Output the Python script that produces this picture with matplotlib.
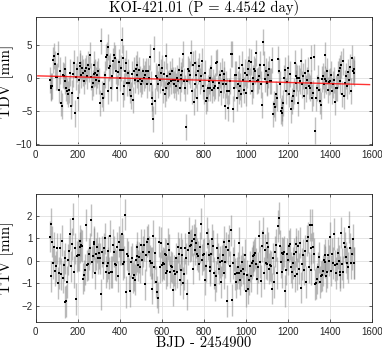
import numpy as np
import matplotlib
matplotlib.use("Agg")
from matplotlib import pyplot as plt

# ephemeris of the transits
t0 = 66.0
period = 4.4542
n_transits = 327

# TDV values [min] in ~100 day blocks
tdv = [
    -0.3, -1.3, -1.5, -1.2, 2.7, 3.3, 2.1, 0.1,
    0.2, 3.6, -1.8, 1.1, -3.8, -4.3, 0.4, 0.3, -0.5, 1.3, -1.5, -2.0, -2.5, -1.8, 0.8, -4.3, -2.3, 0.6, 2.2, -5.4, 0.2, 1.3,
    -3.0, -0.3, 2.3, 1.8, 0.5, 1.5, 0.8, -0.5, 1.0, 1.5, 0.3, 2.0, 1.3, 3.5, 0.2, -1.4, -0.8, 0.6, 2.0, 0.8, -0.4, 0.5, 1.0,
    -0.5, -3.8, 5.6, -2.5, -3.0, -1.0, 0.5, 3.2, 3.5, -2.0, 4.7, 1.5, 1.8, -1.5, 0.3, 2.6, 3.4, 3.0, 1.0, -1.5, 0.9, 2.4,
    0.0, 1.5, 5.7, -2.4, 3.0, -1.3, 1.0, 2.3, -0.8, 0.8, -0.8, -1.8, -2.7, 0.6, -3.4, 1.1, -0.3, 1.4, 2.0, 0.5, -0.5, 1.2, -0.2,
    -0.9, -0.5, 1.0, 0.0, 0.5, 1.0, -1.0, 1.0, 0.0, 3.2, -1.0, -3.0, -4.0, -6.3, 4.4, -3.5, 0.3, 0.0, -1.0, 2.0, -0.3, 0.8,
    1.5, -1.8, 0.6, -2.5, 3.3, -1.5, 0.3, -1.0, -0.8, 0.6, -0.5, 1.0, -0.3, -1.0, -0.3, -1.3, 0.0, -0.5, 1.2, -1.5, 0.4, -0.2, 1.0,
    3.6, -0.5, -1.5, -7.5, -0.5, 1.3, 1.0, 0.5, 3.8, -2.0, 2.0, -3.6, -1.0, 2.3, 0.5, -3.0, 1.0, 1.8, -0.5, 0.3, 2.5, -1.2,
    -2.0, 0.7, -3.5, -3.0, -1.5, -0.5, 0.0, -1.5, 1.5, -1.8, -0.7, -1.5, -1.2, 2.3, 2.4, -1.5, -0.8, 0.4, -2.2, 1.0, -1.0, -0.3, 0.6,
    -4.3, -1.0, -2.0, -4.6, -2.0, -0.5, 3.6, 3.6, -4.7, -1.5, 0.5, 0.5, -3.0, -1.0, -2.0, 1.5, -1.3, -2.5, 2.0, -0.4, -1.8, 0.8,
    -2.3, 0.5, 1.3, 2.5, -0.5, 2.4, -2.0, 0.0, -1.0, 1.3, 1.0, 3.8, -0.5, -0.3, 0.3, 2.0, -1.0, -4.1, 5.4, 2.0, -0.2, 1.0, -0.6,
    -0.8, 0.5, 1.3, -0.5, -0.5, 2.7, -5.5, -4.0, -4.5, -2.5, -3.0, 2.8, 1.0, -1.0, -5.0, -4.6, -5.3, -3.8, 0.0, 1.2, -2.0, -0.6,
    1.5, -2.5, 0.6, -4.8, -3.5, -2.8, -2.0, 2.3, 0.3, -0.8, 0.0, -3.8, 0.0, -0.5, 2.5, -1.0, 0.3, -2.8, 0.8, -1.6, -0.4, 1.1, -1.2,
    -1.5, 3.0, -0.8, -3.0, -2.3, 3.2, -8.0, -3.0, -1.5, 0.0, -1.8, -3.5, -4.2, -0.2, 0.3, -1.0, 3.5, -0.2, -0.5, 1.0, -1.8, -0.6,
    -0.5, 0.5, -2.0, -1.0, -0.3, -3.6, -1.5, -1.5, 0.5, 1.0, -0.5, 1.5, 2.0, -2.5, 2.5, -2.8, -0.8, 0.3, -1.2, 0.9, -0.4, 1.6, -2.0,
    3.0, 1.0, 1.3, 0.7,
]

# TTV values [min]
ttv = [
    1.07, -0.7, 1.65, 0.85, -0.1, 0.6, -0.45, -0.25,
    0.55, -1.0, -0.55, 0.55, -0.6, 0.9, -0.75, -0.2, 0.1, -1.85, -1.8, -0.95, 0.05, 0.45, 1.2, -0.25, 0.75, 1.87, -0.5, 0.55, -1.7, 0.2,
    0.25, 0.25, 0.9, 0.6, 0.7, 0.65, -0.8, -0.65, -0.4, 1.6, -0.2, -0.15, 0.3, 0.55, 1.82, -0.05, 0.2, 0.75, 0.85, -0.55, 0.3, 0.6, 0.1,
    0.35, 0.1, -1.5, 0.4, -0.1, 0.55, 1.0, -0.5, -0.25, 0.45, -0.1, -0.55, 1.1, -0.5, -0.5, 0.7, 0.4, -0.15, -0.2, 0.6, -0.7, 0.85,
    0.5, 0.5, 1.2, 0.5, -0.15, -0.05, 2.05, -1.4, 0.3, 0.2, -0.6, -1.35, -0.05, 0.1, -0.75, -0.65, -0.85, 0.05, 0.6, 0.2, -0.2, 0.15, -0.3,
    0.7, 0.05, 0.4, 0.7, -1.05, 0.25, 0.85, 0.95, 0.4, 0.0, -0.1, -0.1, -1.25, 1.1, -0.3, 0.35, -0.95, -1.4, -1.65, 0.85, -0.3, 0.8,
    -0.2, -0.1, -0.15, 0.3, 0.25, -0.55, -0.45, 0.75, 0.5, -0.5, -0.25, -0.3, -1.3, -0.45, -0.6, 0.1, -0.5, 0.6, 0.3, -0.85, -0.4, 0.55, 0.25,
    -1.0, -0.6, 0.55, 0.1, -1.5, 0.5, 1.25, 0.65, 0.7, 0.9, -0.35, 0.95, 1.15, 0.5, 0.8, 0.3, 0.2, -0.15, 0.6, 1.65, 0.05, 0.25,
    0.3, -0.85, -0.25, 1.25, 0.75, 0.25, -0.3, -0.45, 0.3, 0.95, 0.65, -0.55, -1.1, -0.7, 0.55, 0.1, -0.35, -0.05, -0.95, 0.0, 0.25, -0.55, 0.85,
    -0.05, 0.6, -1.8, 0.5, 0.9, -0.25, 1.35, -1.75, -0.1, 0.25, -0.6, -0.95, -0.55, -0.3, -0.55, 0.8, -0.85, -0.45, -0.05, -0.35, -0.6, 0.25,
    -1.35, -0.65, -1.25, -0.85, -0.25, -0.7, -0.1, 0.0, 0.2, 0.25, 0.35, -0.15, -0.8, -0.3, 1.1, -0.05, -0.9, 0.65, 1.25, -0.55, 0.5, -0.1, 0.8,
    -0.15, 0.6, -0.35, -0.2, -0.25, -1.25, 0.1, -0.95, 0.4, 0.7, -0.55, 1.55, 1.9, 0.65, -0.05, 0.35, -0.5, 0.3, 0.4, -1.35, -0.4, 0.3,
    0.05, 0.65, 0.75, -0.3, -0.5, -0.1, 0.3, -0.7, 0.75, 0.4, -0.6, 0.65, -0.35, 0.8, -1.2, -0.15, 0.25, -0.4, 0.45, -0.95, 0.9, 1.05, -0.3,
    1.6, -0.4, 0.55, 1.6, 0.6, 0.3, -1.05, -1.0, -0.8, -0.3, 0.15, -0.95, -0.7, -0.65, -0.45, 0.05, 0.25, -0.05, -0.7, -0.5, 0.25, 0.0,
    1.05, -0.45, 0.3, -0.1, 1.2, -0.2, -0.55, -0.15, 0.35, 0.0, -0.65, -0.5, 1.25, -0.15, -0.5, 0.8, 0.6, 0.15, -0.1, -0.3, 1.5, 0.55, -0.1,
    0.3, 0.95, -0.1, -0.1,
]

tdv_err = 2.0
ttv_err = 0.7

# linear trend on the TDV panel
trend_x = [10, 1590]
trend_y = [0.3, -1.03]

tdv = np.array(tdv[:n_transits])
ttv = np.array(ttv[:n_transits])
t = t0 + period * np.arange(n_transits)

fig = plt.figure(figsize=(3.82, 3.5), dpi=100)
ax1 = fig.add_axes([0.0935, 0.5857, 0.8795, 0.365])
ax2 = fig.add_axes([0.0935, 0.0809, 0.8795, 0.365])

def style(ax, yticks, ylim):
    ax.set_xlim(0, 1600)
    ax.set_ylim(*ylim)
    ax.set_xticks(np.arange(0, 1601, 200))
    ax.set_yticks(yticks)
    ax.grid(True, color="0.88", lw=0.6)
    ax.set_axisbelow(True)
    ax.tick_params(direction="in", top=True, right=True, length=2.5,
                   width=0.5, labelsize=7, colors="0.15")
    ax.tick_params(axis="y", pad=2.5)
    ax.tick_params(axis="x", pad=3.5)
    for lab in ax.get_xticklabels() + ax.get_yticklabels():
        lab.set_family("Liberation Sans")
    for s in ax.spines.values():
        s.set_linewidth(0.6)
        s.set_color("0.15")

for ax, y, e in [(ax1, tdv, tdv_err), (ax2, ttv, ttv_err)]:
    ax.errorbar(t, y, yerr=e, fmt="none", ecolor="0.5", alpha=0.5,
                elinewidth=1.0, capsize=0, zorder=2)
    ax.plot(t, y, "s", color="k", ms=1.7, mew=0, zorder=3)

ax1.plot(trend_x, trend_y, color="red", lw=1.0, alpha=0.8, zorder=4)

style(ax1, [-10, -5, 0, 5], (-10.2, 9.2))
style(ax2, [-2, -1, 0, 1, 2], (-2.72, 2.98))

ax1.set_title("KOI-421.01 (P = 4.4542 day)", family="cmr10", fontsize=10.5, pad=4)
ax1.set_ylabel("TDV [min]", family="cmr10", fontsize=11)
ax2.set_ylabel("TTV [min]", family="cmr10", fontsize=11)
ax1.yaxis.set_label_coords(-0.064, 0.5)
ax2.yaxis.set_label_coords(-0.064, 0.5)
ax2.set_xlabel("BJD - 2454900", family="cmr10", fontsize=10.5, labelpad=-0.5)

fig.savefig("out.png", dpi=100)
